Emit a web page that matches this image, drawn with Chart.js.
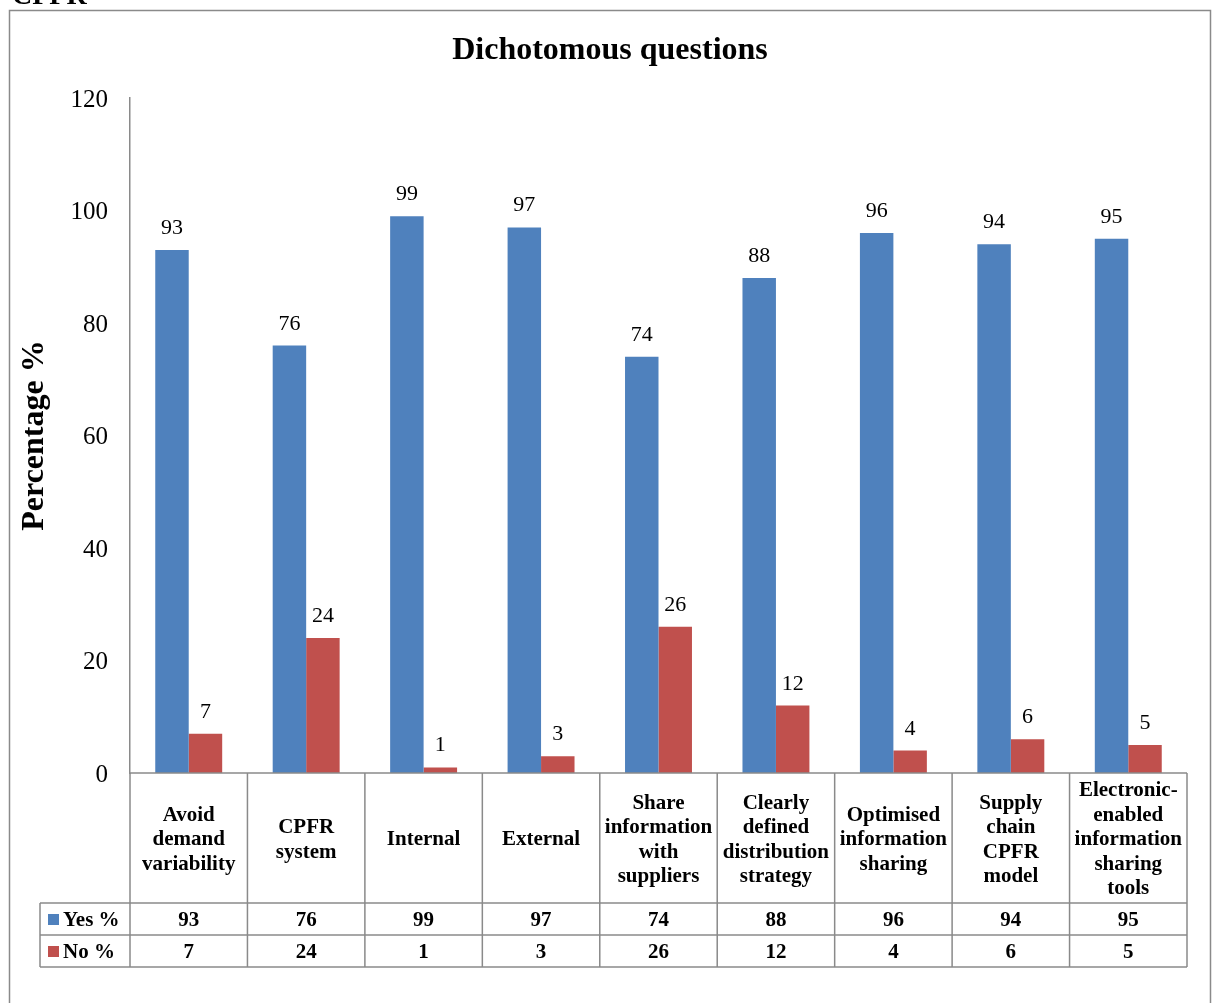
<!DOCTYPE html>
<html>
<head>
<meta charset="utf-8">
<title>Dichotomous questions</title>
<script src="https://cdn.jsdelivr.net/npm/chart.js@4/dist/chart.umd.min.js"></script>
<style>
  html, body { margin: 0; padding: 0; background: #fff; }
  #wrap { width: 1213px; height: 1003px; }
</style>
</head>
<body>
<div id="wrap"><canvas id="myCanvas" width="1213" height="1003"></canvas></div>
<script>
const categories = [
  ["Avoid", "demand", "variability"],
  ["CPFR", "system"],
  ["Internal"],
  ["External"],
  ["Share", "information", "with", "suppliers"],
  ["Clearly", "defined", "distribution", "strategy"],
  ["Optimised", "information", "sharing"],
  ["Supply", "chain", "CPFR", "model"],
  ["Electronic-", "enabled", "information", "sharing", "tools"]
];
const yesValues = [93, 76, 99, 97, 74, 88, 96, 94, 95];
const noValues = [7, 24, 1, 3, 26, 12, 4, 6, 5];
const seriesNames = ["Yes %", "No %"];
const seriesColors = ["#4F81BD", "#C0504D"];

const serif = '"Liberation Serif", "Times New Roman", serif';
const lineGrey = "#8a8a8a";

Chart.defaults.font.family = serif;
Chart.defaults.color = "#000";

// frame, title and the stray heading text above the frame
const framePlugin = {
  id: "frame",
  beforeDraw(chart) {
    const ctx = chart.ctx;
    ctx.save();
    ctx.fillStyle = "#fff";
    ctx.fillRect(0, 0, chart.width, chart.height);
    ctx.strokeStyle = lineGrey;
    ctx.lineWidth = 1.5;
    ctx.strokeRect(9.5, 10.5, 1201, 1100);
    ctx.fillStyle = "#000";
    ctx.font = "bold 28px " + serif;
    ctx.textBaseline = "alphabetic";
    ctx.textAlign = "left";
    ctx.fillText("CPFR", 12, 4);
    ctx.font = "bold 32px " + serif;
    ctx.textAlign = "center";
    ctx.textBaseline = "middle";
    ctx.fillText("Dichotomous questions", 610, 51);
    ctx.restore();
  }
};

// value labels above the bars
const labelPlugin = {
  id: "barLabels",
  afterDatasetsDraw(chart) {
    const ctx = chart.ctx;
    ctx.save();
    ctx.font = "22px " + serif;
    ctx.fillStyle = "#000";
    ctx.textAlign = "center";
    ctx.textBaseline = "alphabetic";
    chart.data.datasets.forEach((ds, di) => {
      chart.getDatasetMeta(di).data.forEach((bar, i) => {
        ctx.fillText(String(ds.data[i]), bar.x, bar.y - 16);
      });
    });
    ctx.restore();
  }
};

// data table under the plot: category names, then one row per series
const tablePlugin = {
  id: "dataTable",
  afterDraw(chart) {
    const ctx = chart.ctx;
    const area = chart.chartArea;
    const n = categories.length;
    const colW = (area.right - area.left) / n;
    const top = area.bottom;
    const headBottom = 903;
    const rowH = 32;
    const tableBottom = headBottom + rowH * 2;
    const legendLeft = 40;

    ctx.save();
    ctx.strokeStyle = lineGrey;
    ctx.lineWidth = 1.5;
    ctx.beginPath();
    ctx.moveTo(area.left, top);
    ctx.lineTo(area.right, top);
    for (let r = 0; r <= 2; r++) {
      ctx.moveTo(legendLeft, headBottom + r * rowH);
      ctx.lineTo(area.right, headBottom + r * rowH);
    }
    ctx.moveTo(legendLeft, headBottom);
    ctx.lineTo(legendLeft, tableBottom);
    for (let i = 0; i <= n; i++) {
      const x = area.left + i * colW;
      ctx.moveTo(x, top);
      ctx.lineTo(x, tableBottom);
    }
    ctx.stroke();

    ctx.fillStyle = "#000";
    ctx.font = "bold 21px " + serif;
    ctx.textAlign = "center";
    ctx.textBaseline = "middle";
    const lh = 24.5;
    const headMid = (top + headBottom) / 2 + 2;
    categories.forEach((lines, i) => {
      const cx = chart.scales.x.getPixelForValue(i);
      const y0 = headMid - (lines.length - 1) * lh / 2;
      lines.forEach((t, k) => ctx.fillText(t, cx, y0 + k * lh));
    });

    chart.data.datasets.forEach((ds, di) => {
      const cy = headBottom + rowH * di + rowH / 2;
      ds.data.forEach((v, i) => {
        ctx.fillText(String(v), chart.scales.x.getPixelForValue(i), cy + 2);
      });
      ctx.fillStyle = seriesColors[di];
      ctx.fillRect(48, cy - 5, 11, 11);
      ctx.fillStyle = "#000";
      ctx.textAlign = "left";
      ctx.fillText(seriesNames[di], 63, cy + 2);
      ctx.textAlign = "center";
    });
    ctx.restore();
  }
};

new Chart(document.getElementById("myCanvas"), {
  type: "bar",
  data: {
    labels: categories.map(c => c.join(" ")),
    datasets: [
      { label: seriesNames[0], data: yesValues, backgroundColor: seriesColors[0] },
      { label: seriesNames[1], data: noValues, backgroundColor: seriesColors[1] }
    ]
  },
  options: {
    responsive: false,
    animation: false,
    events: [],
    layout: { padding: { top: 98, right: 26, bottom: 230, left: 0 } },
    datasets: { bar: { categoryPercentage: 0.57, barPercentage: 1.0 } },
    plugins: {
      legend: { display: false },
      title: { display: false },
      tooltip: { enabled: false }
    },
    scales: {
      x: { display: false },
      y: {
        min: 0,
        max: 120,
        afterFit(scale) { scale.width = 130; },
        ticks: { stepSize: 20, padding: 22, labelOffset: 2, color: "#000", font: { size: 25 } },
        grid: { display: false, drawTicks: false },
        border: { display: true, color: lineGrey, width: 1.5 },
        title: {
          display: true,
          text: "Percentage %",
          color: "#000",
          font: { size: 32, weight: "bold" },
          padding: { top: 16, bottom: 0 }
        }
      }
    }
  },
  plugins: [framePlugin, labelPlugin, tablePlugin]
});
</script>
</body>
</html>
